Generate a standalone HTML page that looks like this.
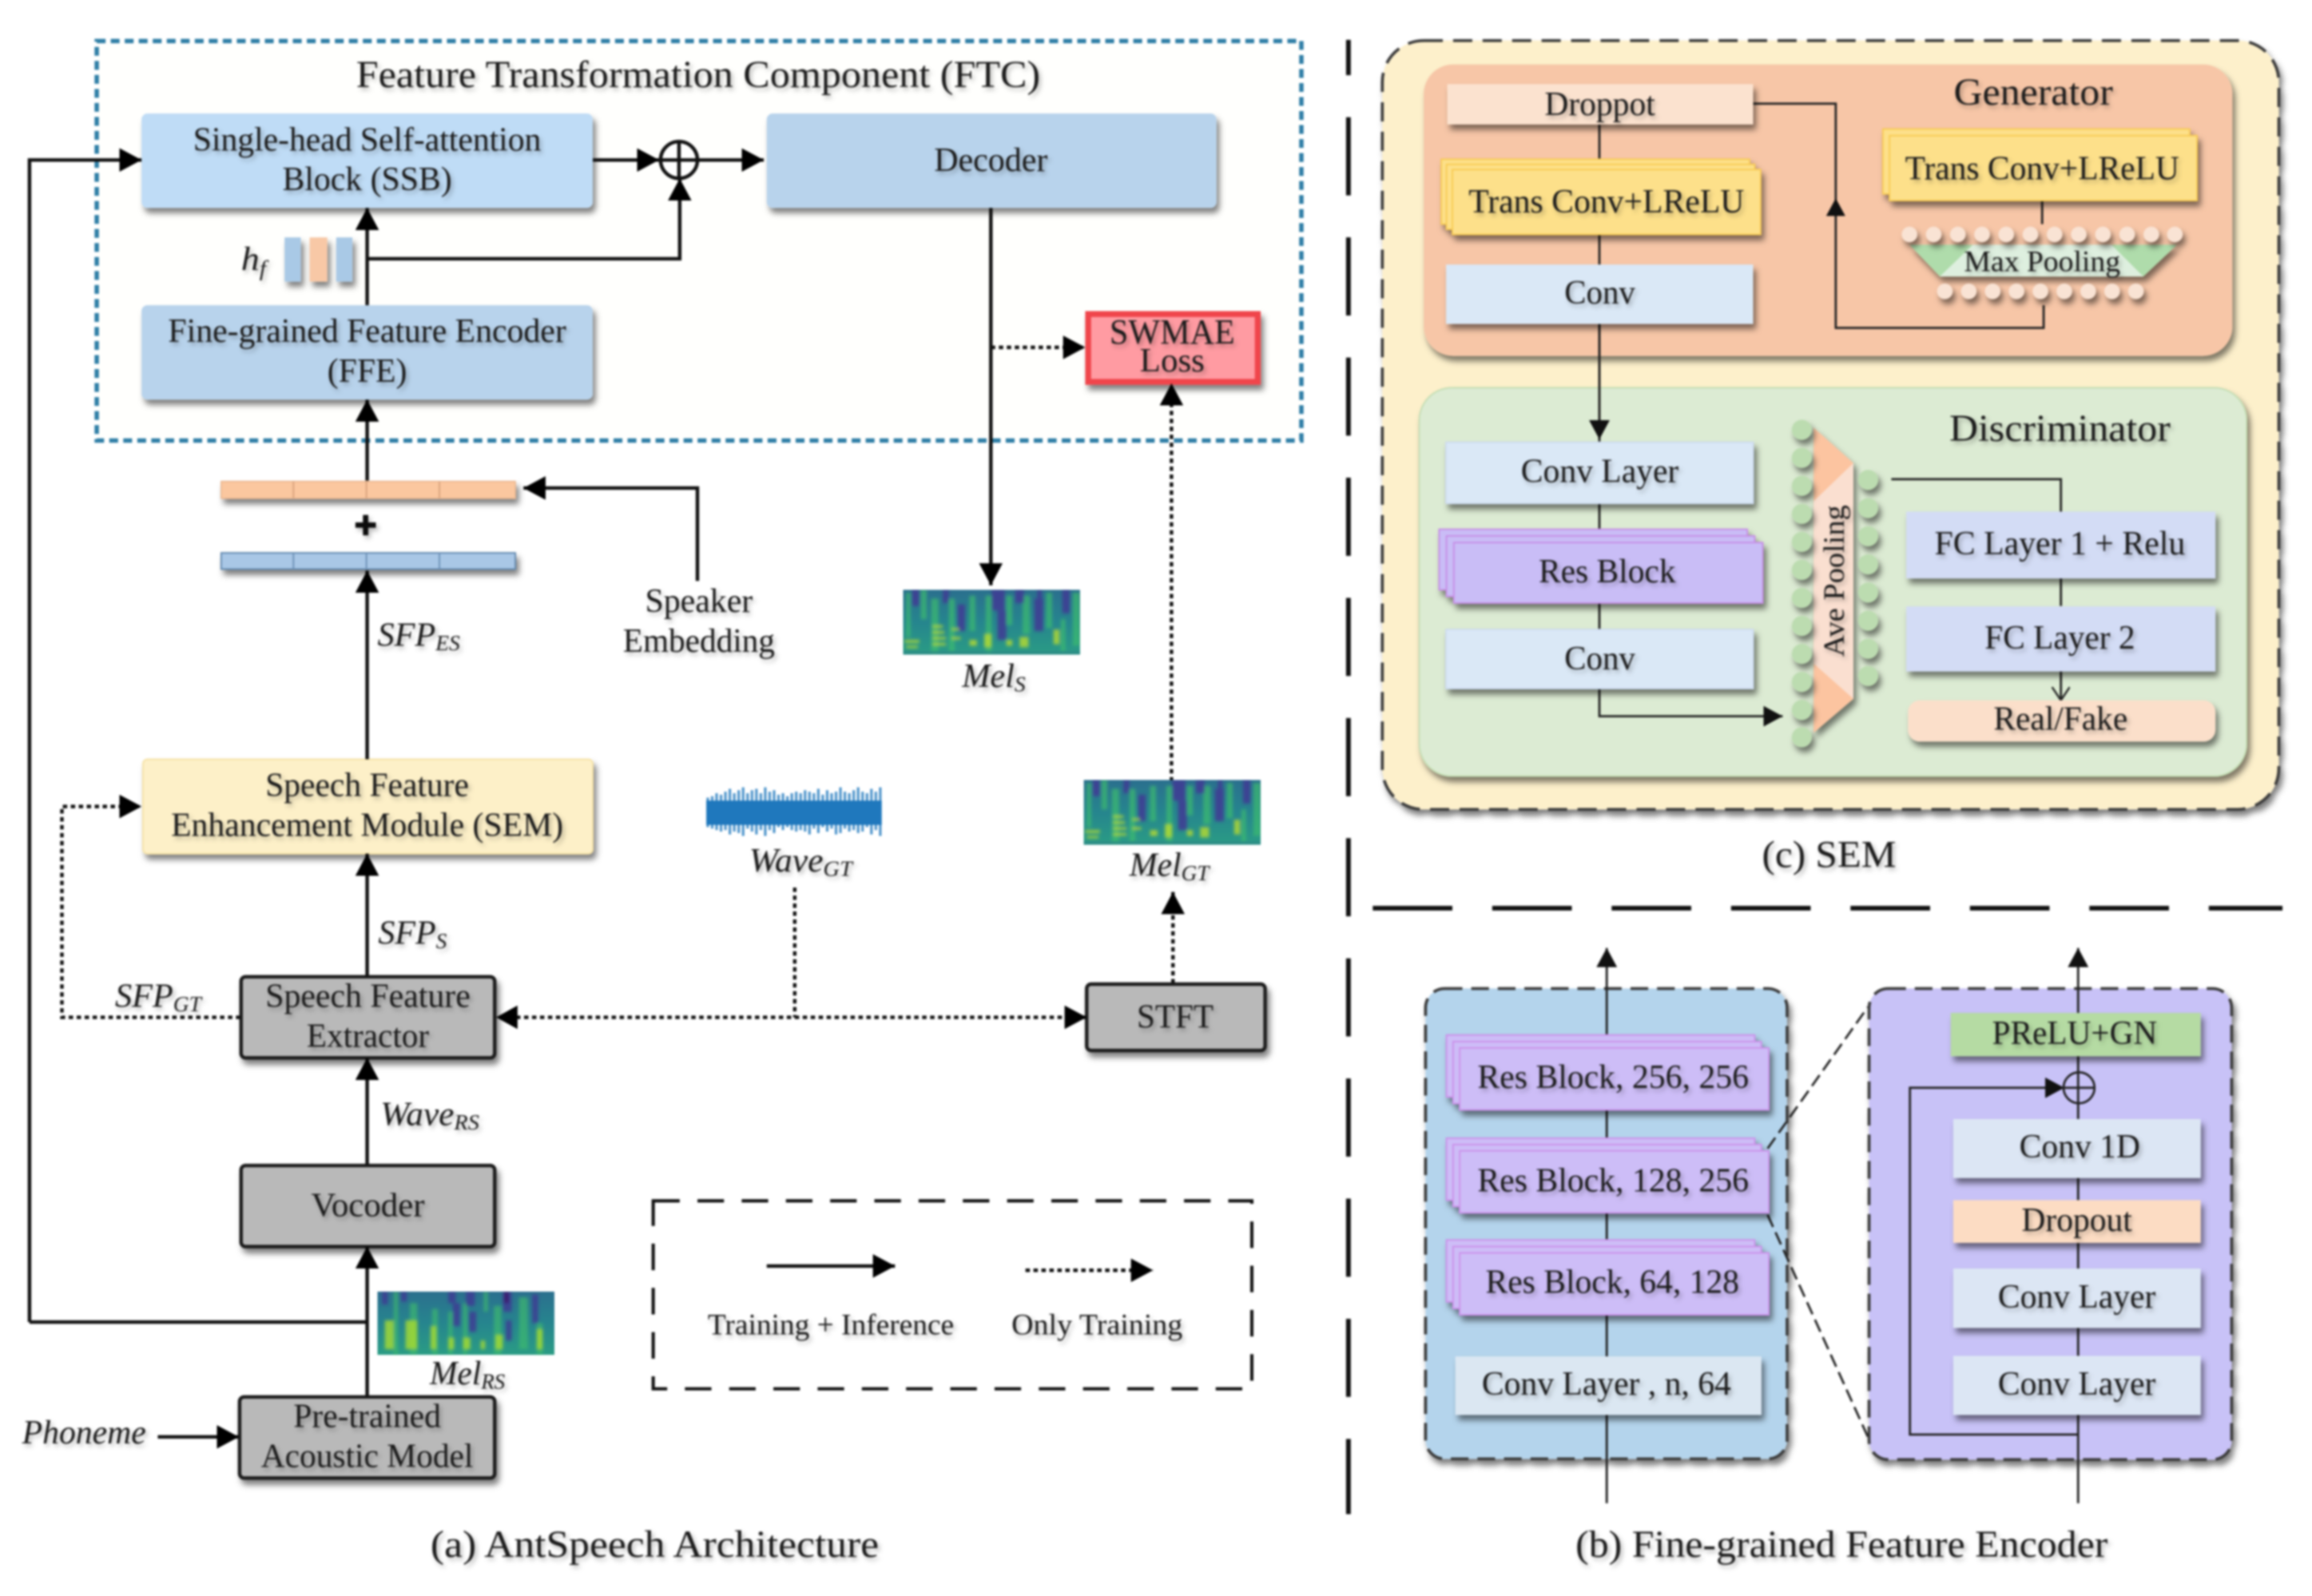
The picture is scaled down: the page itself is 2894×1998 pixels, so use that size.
<!DOCTYPE html>
<html><head><meta charset="utf-8"><style>
html,body{margin:0;padding:0;background:#fff;width:2894px;height:1998px;overflow:hidden}
svg{display:block;filter:blur(1.3px)}
text{font-family:"Liberation Serif",serif;fill:#1c1c1c;font-size:23px;text-anchor:middle}
.i{font-style:italic;text-anchor:start}
.i tspan{font-size:15px}
.l{stroke:#111;stroke-width:2.4;fill:none}
.t{stroke:#222;stroke-width:1.5;fill:none}
.d{stroke:#111;stroke-width:2.4;fill:none;stroke-dasharray:3 2.4}
</style></head><body>
<svg width="2894" height="1998" viewBox="0 0 1568 1082.5" xmlns="http://www.w3.org/2000/svg">
<defs>
<filter id="s" x="-15%" y="-20%" width="135%" height="150%"><feDropShadow dx="2" dy="3.5" stdDeviation="2" flood-color="#000" flood-opacity=".5"/></filter>
<filter id="ts" x="-5%" y="-5%" width="110%" height="110%"><feDropShadow dx="1.5" dy="2" stdDeviation="1.6" flood-color="#000" flood-opacity=".28"/></filter>
<filter id="mb" x="-5%" y="-5%" width="110%" height="110%"><feGaussianBlur stdDeviation="1"/></filter>
<marker id="a" markerUnits="userSpaceOnUse" markerWidth="16" markerHeight="18" refX="15" refY="8" orient="auto"><path d="M0 0L15 8L0 16Z" fill="#000"/></marker>
<marker id="b" markerUnits="userSpaceOnUse" markerWidth="14" markerHeight="16" refX="13" refY="7" orient="auto"><path d="M0 0L13 7L0 14Z" fill="#111"/></marker>
<marker id="o" markerUnits="userSpaceOnUse" markerWidth="12" markerHeight="14" refX="10" refY="6" orient="auto"><path d="M1 0L10 6L1 12" fill="none" stroke="#222" stroke-width="1.3"/></marker>
<linearGradient id="mg" x1="0" y1="0" x2="0" y2="1"><stop offset="0" stop-color="#2b6f8e"/><stop offset=".5" stop-color="#26858e"/><stop offset="1" stop-color="#2a9c84"/></linearGradient>
<symbol id="mel" viewBox="0 0 120 44" preserveAspectRatio="none">
<rect width="120" height="44" fill="url(#mg)"/>
<g filter="url(#mb)">
<g fill="#3ebc6e" opacity=".7"><rect x="2" y="2" width="3" height="30"/><rect x="12" y="0" width="4" height="20"/><rect x="19" y="6" width="5" height="38"/><rect x="31" y="6" width="4" height="36"/><rect x="45" y="4" width="4" height="24"/><rect x="56" y="4" width="4" height="40"/><rect x="70" y="4" width="4" height="20"/><rect x="81" y="4" width="5" height="26"/><rect x="97" y="2" width="4" height="24"/><rect x="107" y="20" width="3" height="22"/><rect x="115" y="2" width="5" height="36"/></g>
<g fill="#3f3a94" opacity=".85"><rect x="6" y="0" width="5" height="11"/><rect x="27" y="0" width="4" height="9"/><rect x="37" y="10" width="5" height="18"/><rect x="60" y="0" width="9" height="14"/><rect x="64" y="14" width="6" height="20"/><rect x="76" y="0" width="6" height="9"/><rect x="89" y="6" width="6" height="22"/><rect x="91" y="0" width="3" height="8"/><rect x="108" y="0" width="5" height="16"/></g>
<g fill="#c2e02a" opacity=".75"><rect x="1" y="34" width="10" height="2"/><rect x="2" y="38" width="8" height="1.600"/><rect x="20" y="24" width="7" height="1.800"/><rect x="20" y="28" width="8" height="1.800"/><rect x="20" y="32" width="9" height="1.800"/><rect x="20" y="36" width="9" height="1.800"/><rect x="33" y="26" width="5" height="1.600"/><rect x="33" y="32" width="6" height="1.800"/><rect x="45" y="34" width="5" height="4"/><rect x="55" y="30" width="5" height="9"/><rect x="70" y="34" width="4" height="4"/><rect x="79" y="32" width="6" height="7"/><rect x="102" y="27" width="4" height="10"/></g>
</g>
<rect y="41.500" width="120" height="2.500" fill="#2f8a88" opacity=".7"/>
</symbol>
<symbol id="melr" viewBox="0 0 120 44" preserveAspectRatio="none">
<rect width="120" height="44" fill="url(#mg)"/>
<g filter="url(#mb)">
<g fill="#3ebc6e" opacity=".65"><rect x="11" y="0" width="3" height="44"/><rect x="22" y="8" width="5" height="36"/><rect x="37" y="12" width="4" height="32"/><rect x="48" y="14" width="3" height="30"/><rect x="58" y="8" width="3" height="36"/><rect x="72" y="0" width="3" height="14"/><rect x="79" y="10" width="5" height="34"/><rect x="96" y="4" width="6" height="36"/><rect x="108" y="22" width="4" height="22"/></g>
<g fill="#3f3a94" opacity=".8"><rect x="3" y="0" width="4" height="9"/><rect x="16" y="0" width="4" height="7"/><rect x="48" y="0" width="5" height="8"/><rect x="51" y="8" width="5" height="16"/><rect x="60" y="0" width="6" height="10"/><rect x="62" y="14" width="5" height="14"/><rect x="85" y="0" width="6" height="14"/><rect x="87" y="20" width="4" height="14"/><rect x="105" y="2" width="4" height="20"/></g>
<rect x="86" y="0" width="3" height="8" fill="#3a1468" opacity=".9"/>
<g fill="#a9dc30" opacity=".8"><rect x="5" y="20" width="6" height="20"/><rect x="19" y="20" width="8" height="20"/><rect x="36" y="24" width="4" height="16"/><rect x="48" y="32" width="4" height="8"/><rect x="58" y="32" width="5" height="8"/><rect x="70" y="34" width="3" height="6"/><rect x="80" y="30" width="5" height="10"/><rect x="108" y="26" width="4" height="14"/></g>
</g>
</symbol>
</defs>
<rect width="1568" height="1082.5" fill="#fff"/>

<!-- FTC -->
<rect x="65.6" y="27.8" width="817" height="271" fill="#fffffd" stroke="#2f7ea6" stroke-width="3" stroke-dasharray="6 3.5"/>
<g filter="url(#s)">
<rect x="96" y="77" width="306" height="64" rx="4" fill="#bfdcf6"/>
<rect x="520" y="77" width="305" height="64" rx="4" fill="#b8d3ec"/>
<rect x="96" y="207" width="306" height="64" rx="4" fill="#b8d3ec"/>
<rect x="193" y="161" width="11" height="30" fill="#a9c9e6"/>
<rect x="210" y="161" width="12" height="30" fill="#f8c8a6"/>
<rect x="228" y="161" width="11" height="30" fill="#a9c9e6"/>
<rect x="738" y="213" width="115" height="46" fill="#ff9ba2" stroke="#f0444c" stroke-width="4"/>
<rect x="150" y="326.5" width="199.5" height="11.5" fill="#fbc79f" stroke="#e9b48c" stroke-width=".8"/>
<rect x="150" y="375" width="199.5" height="11" fill="#a9c7e6" stroke="#5f86ad" stroke-width="1"/>
<rect x="97" y="515" width="305" height="64" rx="3" fill="#fdf0c8" stroke="#f6e2a5"/>
</g>
<path d="M199 326.5v11.5M248.500 326.500v11.500M298 326.500v11.500" stroke="#d8a27c" stroke-width="1"/>
<path d="M199 375v11M248.500 375v11M298 375v11" stroke="#6b8fb5" stroke-width="1"/>
<g filter="url(#s)" fill="#b9b9b9" stroke="#1a1a1a" stroke-width="2.4">
<rect x="163.500" y="662.500" width="172" height="55" rx="3"/>
<rect x="737" y="667.500" width="121" height="45" rx="3"/>
<rect x="163.500" y="790.500" width="172" height="55" rx="3"/>
<rect x="162.500" y="947.500" width="173" height="55" rx="3"/>
</g>

<!-- left connectors -->
<path class="l" d="M249 207V141" marker-end="url(#a)"/>
<path class="l" d="M249 175.500H461V121" marker-end="url(#a)"/>
<path class="l" d="M402 108.500H447" marker-end="url(#a)"/>
<path class="l" d="M474 108.500H518" marker-end="url(#a)"/>
<ellipse cx="460.500" cy="108.500" rx="12.500" ry="12.500" fill="#fff" stroke="#111" stroke-width="2.400"/>
<path class="l" d="M448 108.500H473M460.500 96V121"/>
<path class="l" d="M20 896.700V108.500H96" marker-end="url(#a)"/>
<path class="l" d="M20 896.700H249"/>
<path class="l" d="M249 326V271" marker-end="url(#a)"/>
<path class="l" d="M473 394V331H355" marker-end="url(#a)"/>
<path class="l" d="M249 515V387" marker-end="url(#a)"/>
<path class="l" d="M249 662V579" marker-end="url(#a)"/>
<path class="l" d="M249 790V717.500" marker-end="url(#a)"/>
<path class="l" d="M249 947V845.500" marker-end="url(#a)"/>
<path class="l" d="M107 974.600H162" marker-end="url(#a)"/>
<path class="l" d="M672 141V397" marker-end="url(#a)"/>
<path class="d" d="M672 235.600H736" marker-end="url(#a)"/>
<path class="d" d="M794.500 530V260" stroke-width="2" marker-end="url(#a)"/>
<path class="d" d="M163 690H42V547H96" marker-end="url(#a)"/>
<path class="d" d="M350 690H737" marker-end="url(#a)"/>
<path d="M336.500 690L351 682V698Z" fill="#000"/>
<path class="d" d="M539 602V690" stroke-width="2" stroke-dasharray="5 3"/>
<path class="d" d="M795.500 667V605" stroke-dasharray="5 3" marker-end="url(#a)"/>

<!-- spectrograms & wave -->
<use href="#mel" x="612.500" y="400" width="120" height="44"/>
<use href="#mel" x="735" y="529" width="120" height="44"/>
<use href="#melr" x="256" y="876" width="120" height="43"/>
<rect x="479" y="543" width="119" height="16.500" fill="#1f78bd"/>
<path stroke="#1f78bd" stroke-width="1.700" fill="none" opacity=".8" d="M480 541V561M483 540V562M486 538V563M489 539V564M492 537V563M495 535V566M498 538V564M501 536V565M504 534V567M507 538V562M510 536V564M513 535V566M516 538V563M519 534V567M522 537V563M525 536V565M528 539V561M531 538V563M534 540V561M537 538V563M540 537V564M543 538V563M546 536V564M549 537V566M552 538V562M555 535V565M558 539V561M561 536V564M564 538V562M567 537V566M570 534V565M573 537V562M576 538V564M579 536V563M582 534V565M585 537V564M588 538V561M591 535V566M594 537V563M597 534V567"/>

<!-- legend -->
<rect x="443" y="814.500" width="406" height="127.500" fill="none" stroke="#111" stroke-width="2.200" stroke-dasharray="18 12"/>
<path class="l" d="M520 858.700H607" marker-end="url(#a)"/>
<path class="d" d="M695.500 861.600H782" marker-end="url(#a)"/>

<!-- main dividers -->
<path d="M914.500 27V1027" stroke="#111" stroke-width="3.200" stroke-dasharray="53 28.500" stroke-dashoffset="29"/>
<path d="M931 616H1548" stroke="#111" stroke-width="3.200" stroke-dasharray="54 27"/>

<!-- SEM panel -->
<g filter="url(#s)"><rect x="937.500" y="27.500" width="608" height="521.500" rx="28" fill="#fdf0cb" stroke="#3c3c3c" stroke-width="2" stroke-dasharray="13 7"/></g>
<g filter="url(#s)">
<rect x="965.600" y="43.700" width="548.400" height="197.700" rx="20" fill="#f7c6a7"/>
<rect x="962.600" y="263" width="561" height="263.400" rx="22" fill="#dcebd3" stroke="#c4deb4" stroke-width="1"/>
</g>
<path d="M1084.700 84V300" class="t"/>
<path class="t" d="M1084.700 220V298" marker-end="url(#b)"/>
<path class="t" d="M1189 70.300H1245V222.400H1386V207"/>
<path d="M1245 134.500L1238.500 146.500H1251.500Z" fill="#111"/>
<path class="t" d="M1385 136V152"/>
<g filter="url(#s)">
<rect x="981.500" y="57" width="207.500" height="27.400" fill="#fbe2cf"/>
<rect x="977.500" y="108" width="209" height="44" fill="#fde08a" stroke="#f8cb52"/>
<rect x="981" y="111.500" width="209" height="44" fill="#fde08a" stroke="#f8cb52"/>
<rect x="985" y="115" width="209" height="44" fill="#fde08a" stroke="#f8cb52"/>
<rect x="980.700" y="179.400" width="208.300" height="40.300" fill="#dae8f6"/>
<rect x="1277" y="87.500" width="208" height="44" fill="#fde08a" stroke="#f8cb52"/>
<rect x="1281.500" y="92" width="208.500" height="44" fill="#fde08a" stroke="#f8cb52"/>
</g>
<g filter="url(#s)">
<polygon points="1295,166 1476.500,166 1453.600,187.500 1315.600,187.500" fill="#afdcab"/>
</g>
<polygon points="1338,166 1432,166 1453.600,187.500 1315.600,187.500" fill="#deefdf"/>
<g fill="#f9e3d4" filter="url(#s)">
<circle cx="1295" cy="159" r="5.300"/><circle cx="1311.400" cy="159" r="5.300"/><circle cx="1327.800" cy="159" r="5.300"/><circle cx="1344.200" cy="159" r="5.300"/><circle cx="1360.600" cy="159" r="5.300"/><circle cx="1377" cy="159" r="5.300"/><circle cx="1393.400" cy="159" r="5.300"/><circle cx="1409.800" cy="159" r="5.300"/><circle cx="1426.200" cy="159" r="5.300"/><circle cx="1442.600" cy="159" r="5.300"/><circle cx="1459" cy="159" r="5.300"/><circle cx="1475" cy="159" r="5.300"/>
<circle cx="1319" cy="197.600" r="5.300"/><circle cx="1335.200" cy="197.600" r="5.300"/><circle cx="1351.400" cy="197.600" r="5.300"/><circle cx="1367.600" cy="197.600" r="5.300"/><circle cx="1383.800" cy="197.600" r="5.300"/><circle cx="1400" cy="197.600" r="5.300"/><circle cx="1416.200" cy="197.600" r="5.300"/><circle cx="1432.400" cy="197.600" r="5.300"/><circle cx="1448.600" cy="197.600" r="5.300"/>
</g>
<!-- discriminator -->
<path class="t" d="M1084.700 341V427"/>
<path class="t" d="M1084.700 467V485.800H1209" marker-end="url(#b)"/>
<path class="t" d="M1282.700 325H1397.700V347"/>
<path class="t" d="M1397.700 392V411"/>
<path class="t" d="M1397.700 455V475" marker-end="url(#o)"/>
<g filter="url(#s)">
<rect x="980.700" y="300" width="208.300" height="41.400" fill="#dae8f6" stroke="#cddbf0"/>
<rect x="976" y="359" width="209" height="41" fill="#c9bdf6" stroke="#c78de6"/>
<rect x="981" y="363.500" width="209" height="41" fill="#c9bdf6" stroke="#c78de6"/>
<rect x="986" y="368" width="209.500" height="41" fill="#c9bdf6" stroke="#c78de6"/>
<rect x="980.700" y="427" width="208.300" height="40" fill="#dae8f6" stroke="#cddbf0"/>
<rect x="1292.800" y="347" width="209.700" height="45.300" fill="#d3dcf5"/>
<rect x="1292.800" y="411.300" width="209.700" height="44.100" fill="#d3dcf5"/>
<rect x="1294" y="475" width="208.500" height="28" rx="8" fill="#fbdfca"/>
</g>
<g filter="url(#s)"><polygon points="1230,290 1257,314 1257,474 1230,497" fill="#fcc4a0"/></g>
<polygon points="1257,314 1230,340 1230,450 1257,474" fill="#fadfd0"/>
<g fill="#bcdcb0" filter="url(#s)">
<circle cx="1222" cy="291.500" r="6.800"/><circle cx="1222" cy="310.500" r="6.800"/><circle cx="1222" cy="329.500" r="6.800"/><circle cx="1222" cy="348.500" r="6.800"/><circle cx="1222" cy="367.500" r="6.800"/><circle cx="1222" cy="386.500" r="6.800"/><circle cx="1222" cy="405.500" r="6.800"/><circle cx="1222" cy="424.500" r="6.800"/><circle cx="1222" cy="443.500" r="6.800"/><circle cx="1222" cy="462.500" r="6.800"/><circle cx="1222" cy="481.500" r="6.800"/><circle cx="1222" cy="500" r="6.800"/>
<circle cx="1267" cy="325.500" r="6.800"/><circle cx="1267" cy="344.600" r="6.800"/><circle cx="1267" cy="363.700" r="6.800"/><circle cx="1267" cy="382.800" r="6.800"/><circle cx="1267" cy="401.900" r="6.800"/><circle cx="1267" cy="421" r="6.800"/><circle cx="1267" cy="440" r="6.800"/><circle cx="1267" cy="458.500" r="6.800"/>
</g>

<!-- FFE detail panels -->
<g filter="url(#s)">
<rect x="966.800" y="670.500" width="245.200" height="319" rx="13" fill="#b4d4ec" stroke="#3c3c3c" stroke-width="2" stroke-dasharray="12 6"/>
<rect x="1267.600" y="670.500" width="245.900" height="319.500" rx="13" fill="#c8c2f7" stroke="#3c3c3c" stroke-width="2" stroke-dasharray="12 6"/>
</g>
<path d="M1198.800 779L1266.800 683M1198.800 824L1266.800 974.600" stroke="#222" stroke-width="1.500" stroke-dasharray="9 4" fill="none"/>
<path class="t" d="M1089.700 1019.600V643" marker-end="url(#b)"/>
<path class="t" d="M1409.400 1019.600V643" marker-end="url(#b)"/>
<path class="t" d="M1409 973H1295.300V737.800H1400" stroke="#2a2a55" marker-end="url(#b)"/>
<ellipse cx="1410" cy="737.800" rx="10.500" ry="10.500" fill="none" stroke="#222" stroke-width="1.500"/>
<path class="t" d="M1399.500 737.800H1420.500"/>
<g filter="url(#s)">
<rect x="981" y="702" width="209" height="42" fill="#cdbdf7" stroke="#cc90ea"/><rect x="985.500" y="706.500" width="209" height="42" fill="#cdbdf7" stroke="#cc90ea"/><rect x="990" y="710.800" width="209.600" height="42" fill="#cdbdf7" stroke="#cc90ea"/>
<rect x="981" y="772" width="209" height="42" fill="#cdbdf7" stroke="#cc90ea"/><rect x="985.500" y="776.300" width="209" height="42" fill="#cdbdf7" stroke="#cc90ea"/><rect x="990" y="780.600" width="209.600" height="42" fill="#cdbdf7" stroke="#cc90ea"/>
<rect x="981" y="841" width="209" height="42" fill="#cdbdf7" stroke="#cc90ea"/><rect x="985.500" y="845.500" width="209" height="42" fill="#cdbdf7" stroke="#cc90ea"/><rect x="990" y="849.800" width="209.600" height="42" fill="#cdbdf7" stroke="#cc90ea"/>
<rect x="987" y="920" width="207.600" height="39.700" fill="#dbe7f2"/>
<rect x="1323" y="687" width="169.500" height="29.400" fill="#b5dba3"/>
<rect x="1324.700" y="759" width="167.800" height="40" fill="#dce6f4"/>
<rect x="1324.700" y="814" width="167.800" height="29" fill="#fcdcc3"/>
<rect x="1324.700" y="860.400" width="167.800" height="40.300" fill="#dce6f4"/>
<rect x="1324.700" y="919.600" width="167.800" height="40.100" fill="#dce6f4"/>
</g>

<!-- all text -->
<g filter="url(#ts)">
<text x="473.500" y="59" textLength="464" lengthAdjust="spacingAndGlyphs" style="font-size:26px">Feature Transformation Component (FTC)</text>
<text x="249" y="102" textLength="236" lengthAdjust="spacingAndGlyphs">Single-head Self-attention</text>
<text x="249" y="129" textLength="115" lengthAdjust="spacingAndGlyphs">Block (SSB)</text>
<text x="672" y="116" textLength="77" lengthAdjust="spacingAndGlyphs">Decoder</text>
<text x="249" y="232" textLength="270" lengthAdjust="spacingAndGlyphs">Fine-grained Feature Encoder</text>
<text x="249" y="259" textLength="54" lengthAdjust="spacingAndGlyphs">(FFE)</text>
<text class="i" x="163.500" y="183" textLength="17" lengthAdjust="spacingAndGlyphs">h<tspan dy="4">f</tspan></text>
<text x="795" y="233" textLength="85" lengthAdjust="spacingAndGlyphs" style="font-size:24px">SWMAE</text>
<text x="795" y="252" textLength="44" lengthAdjust="spacingAndGlyphs">Loss</text>
<text x="248" y="364.500" style="font-size:26px;font-weight:bold;stroke:#111;stroke-width:1.800">+</text>
<text x="474" y="415" textLength="73" lengthAdjust="spacingAndGlyphs">Speaker</text>
<text x="474" y="442" textLength="103" lengthAdjust="spacingAndGlyphs">Embedding</text>
<text class="i" x="256" y="438" textLength="56" lengthAdjust="spacingAndGlyphs">SFP<tspan dy="3">ES</tspan></text>
<text class="i" x="652.500" y="466" textLength="43" lengthAdjust="spacingAndGlyphs">Mel<tspan dy="3">S</tspan></text>
<text x="249" y="540" textLength="138" lengthAdjust="spacingAndGlyphs">Speech Feature</text>
<text x="249" y="567" textLength="266" lengthAdjust="spacingAndGlyphs">Enhancement Module (SEM)</text>
<text class="i" x="508" y="591" textLength="70" lengthAdjust="spacingAndGlyphs">Wave<tspan dy="3">GT</tspan></text>
<text class="i" x="766" y="594" textLength="54" lengthAdjust="spacingAndGlyphs">Mel<tspan dy="3">GT</tspan></text>
<text class="i" x="256.500" y="640" textLength="46.500" lengthAdjust="spacingAndGlyphs">SFP<tspan dy="3">S</tspan></text>
<text class="i" x="78" y="683" textLength="58.500" lengthAdjust="spacingAndGlyphs">SFP<tspan dy="3">GT</tspan></text>
<text x="249.500" y="683" textLength="139" lengthAdjust="spacingAndGlyphs">Speech Feature</text>
<text x="249.500" y="710" textLength="83" lengthAdjust="spacingAndGlyphs">Extractor</text>
<text x="797" y="697" textLength="52" lengthAdjust="spacingAndGlyphs">STFT</text>
<text class="i" x="258" y="763" textLength="67" lengthAdjust="spacingAndGlyphs">Wave<tspan dy="3">RS</tspan></text>
<text x="249.500" y="825" textLength="77" lengthAdjust="spacingAndGlyphs">Vocoder</text>
<text class="i" x="291.500" y="939" textLength="51" lengthAdjust="spacingAndGlyphs">Mel<tspan dy="3">RS</tspan></text>
<text x="249" y="968" textLength="100" lengthAdjust="spacingAndGlyphs">Pre-trained</text>
<text x="249" y="995" textLength="144" lengthAdjust="spacingAndGlyphs">Acoustic Model</text>
<text class="i" x="15" y="979" textLength="84" lengthAdjust="spacingAndGlyphs">Phoneme</text>
<text x="563.500" y="905" textLength="167" lengthAdjust="spacingAndGlyphs" style="font-size:20px">Training + Inference</text>
<text x="744" y="905" textLength="116" lengthAdjust="spacingAndGlyphs" style="font-size:20px">Only Training</text>
<text x="444" y="1056" textLength="304" lengthAdjust="spacingAndGlyphs" style="font-size:26px">(a) AntSpeech  Architecture</text>

<text x="1085" y="78" textLength="75" lengthAdjust="spacingAndGlyphs">Droppot</text>
<text x="1379" y="71" textLength="108" lengthAdjust="spacingAndGlyphs" style="font-size:26px">Generator</text>
<text x="1089.500" y="144" textLength="187" lengthAdjust="spacingAndGlyphs">Trans Conv+LReLU</text>
<text x="1385" y="121.500" textLength="186" lengthAdjust="spacingAndGlyphs">Trans Conv+LReLU</text>
<text x="1085" y="206" textLength="48" lengthAdjust="spacingAndGlyphs">Conv</text>
<text x="1385" y="184" textLength="106" lengthAdjust="spacingAndGlyphs" style="font-size:20px">Max Pooling</text>
<text x="1397" y="299" textLength="150" lengthAdjust="spacingAndGlyphs" style="font-size:26px">Discriminator</text>
<text x="1085" y="327" textLength="107" lengthAdjust="spacingAndGlyphs">Conv Layer</text>
<text x="1090" y="395" textLength="93" lengthAdjust="spacingAndGlyphs">Res Block</text>
<text x="1085" y="454" textLength="48" lengthAdjust="spacingAndGlyphs">Conv</text>
<text transform="translate(1250.500 394) rotate(-90)" textLength="103" lengthAdjust="spacingAndGlyphs" style="font-size:20px">Ave Pooling</text>
<text x="1397" y="376" textLength="170" lengthAdjust="spacingAndGlyphs">FC Layer 1 + Relu</text>
<text x="1397" y="440" textLength="102" lengthAdjust="spacingAndGlyphs">FC Layer 2</text>
<text x="1397.500" y="495" textLength="91" lengthAdjust="spacingAndGlyphs">Real/Fake</text>
<text x="1240.500" y="588" textLength="91" lengthAdjust="spacingAndGlyphs" style="font-size:26px">(c) SEM</text>

<text x="1094" y="738" textLength="184" lengthAdjust="spacingAndGlyphs">Res Block, 256, 256</text>
<text x="1094" y="808" textLength="184" lengthAdjust="spacingAndGlyphs">Res Block, 128, 256</text>
<text x="1093.500" y="877" textLength="172" lengthAdjust="spacingAndGlyphs">Res Block, 64, 128</text>
<text x="1089.500" y="946" textLength="169" lengthAdjust="spacingAndGlyphs">Conv Layer , n, 64</text>
<text x="1407" y="708" textLength="112" lengthAdjust="spacingAndGlyphs">PReLU+GN</text>
<text x="1410.500" y="785" textLength="82" lengthAdjust="spacingAndGlyphs">Conv 1D</text>
<text x="1408.500" y="835" textLength="75" lengthAdjust="spacingAndGlyphs">Dropout</text>
<text x="1408.500" y="887" textLength="107" lengthAdjust="spacingAndGlyphs">Conv Layer</text>
<text x="1408.500" y="946" textLength="107" lengthAdjust="spacingAndGlyphs">Conv Layer</text>
<text x="1249" y="1056" textLength="361" lengthAdjust="spacingAndGlyphs" style="font-size:26px">(b) Fine-grained Feature Encoder</text>
</g>
</svg>
</body></html>
